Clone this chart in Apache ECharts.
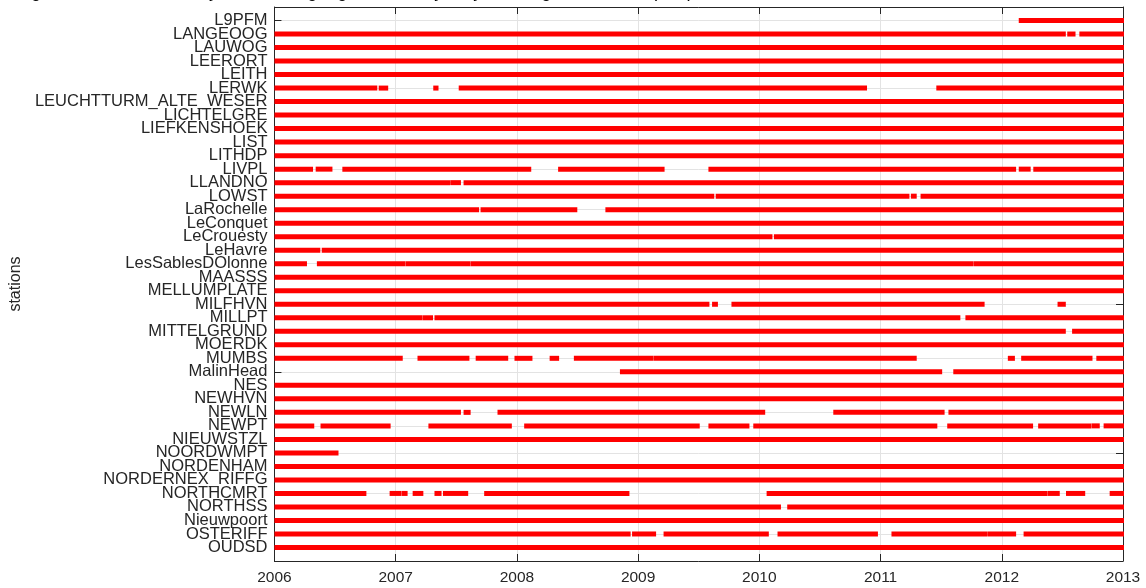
<!DOCTYPE html>
<html>
<head>
<meta charset="utf-8">
<title>Station data availability</title>
<script src="https://cdn.jsdelivr.net/npm/echarts@6/dist/echarts.min.js"></script>
<style>
  html, body { margin: 0; padding: 0; background: #fff; }
  #chart { width: 1146px; height: 588px; }
</style>
</head>
<body>
<div id="chart"></div>
<script>
// Station names, top to bottom
const stations = [
  'L9PFM', 'LANGEOOG', 'LAUWOG', 'LEERORT', 'LEITH', 'LERWK',
  'LEUCHTTURM_ALTE_WESER', 'LICHTELGRE', 'LIEFKENSHOEK', 'LIST', 'LITHDP',
  'LIVPL', 'LLANDNO', 'LOWST', 'LaRochelle', 'LeConquet', 'LeCrouesty',
  'LeHavre', 'LesSablesDOlonne', 'MAASSS', 'MELLUMPLATE', 'MILFHVN', 'MILLPT',
  'MITTELGRUND', 'MOERDK', 'MUMBS', 'MalinHead', 'NES', 'NEWHVN', 'NEWLN',
  'NEWPT', 'NIEUWSTZL', 'NOORDWMPT', 'NORDENHAM', 'NORDERNEX_RIFFG',
  'NORTHCMRT', 'NORTHSS', 'Nieuwpoort', 'OSTERIFF', 'OUDSD'
];

// Year ticks on the time axis
const yearTicks = [2006, 2007, 2008, 2009, 2010, 2011, 2012, 2013];

// Periods with data for each station, [start, end] in decimal years
const FULL = [[2006, 2013]];
const coverage = [
  [[2012.14, 2013]],                                                     // L9PFM
  [[2006, 2012.52], [2012.54, 2012.60], [2012.64, 2013]],                // LANGEOOG
  FULL,                                                                  // LAUWOG
  FULL,                                                                  // LEERORT
  FULL,                                                                  // LEITH
  [[2006, 2006.84], [2006.86, 2006.93], [2007.31, 2007.345],
   [2007.52, 2010.88], [2011.46, 2013]],                                 // LERWK
  FULL,                                                                  // LEUCHTTURM_ALTE_WESER
  FULL,                                                                  // LICHTELGRE
  FULL,                                                                  // LIEFKENSHOEK
  FULL,                                                                  // LIST
  FULL,                                                                  // LITHDP
  [[2006, 2006.31], [2006.34, 2006.47], [2006.56, 2008.11],
   [2008.34, 2009.21], [2009.58, 2012.11], [2012.14, 2012.23],
   [2012.26, 2013]],                                                     // LIVPL
  [[2006, 2007.44], [2007.45, 2007.53], [2007.56, 2013]],                // LLANDNO
  [[2006, 2009.62], [2009.64, 2011.23], [2011.25, 2011.29],
   [2011.33, 2013]],                                                     // LOWST
  [[2006, 2007.68], [2007.70, 2008.49], [2008.73, 2013]],                // LaRochelle
  FULL,                                                                  // LeConquet
  [[2006, 2010.10], [2010.12, 2013]],                                    // LeCrouesty
  [[2006, 2006.37], [2006.39, 2013]],                                    // LeHavre
  [[2006, 2006.26], [2006.35, 2007.07], [2007.08, 2007.61],
   [2007.62, 2011.76], [2011.77, 2013]],                                 // LesSablesDOlonne
  FULL,                                                                  // MAASSS
  FULL,                                                                  // MELLUMPLATE
  [[2006, 2009.58], [2009.61, 2009.65], [2009.77, 2011.85],
   [2012.46, 2012.52]],                                                  // MILFHVN
  [[2006, 2007.21], [2007.22, 2007.30], [2007.32, 2011.65],
   [2011.70, 2013]],                                                     // MILLPT
  [[2006, 2012.52], [2012.58, 2013]],                                    // MITTELGRUND
  FULL,                                                                  // MOERDK
  [[2006, 2007.05], [2007.18, 2007.60], [2007.66, 2007.92],
   [2007.98, 2008.12], [2008.27, 2008.34], [2008.47, 2009.12],
   [2009.13, 2011.29], [2012.05, 2012.10], [2012.16, 2012.74],
   [2012.78, 2013]],                                                     // MUMBS
  [[2008.85, 2011.50], [2011.60, 2013]],                                 // MalinHead
  FULL,                                                                  // NES
  FULL,                                                                  // NEWHVN
  [[2006, 2007.53], [2007.56, 2007.61], [2007.84, 2010.04],
   [2010.61, 2011.52], [2011.56, 2013]],                                 // NEWLN
  [[2006, 2006.32], [2006.38, 2006.95], [2007.27, 2007.95],
   [2008.06, 2009.50], [2009.58, 2009.91], [2009.95, 2011.46],
   [2011.55, 2012.25], [2012.30, 2012.73], [2012.74, 2012.80],
   [2012.84, 2013]],                                                     // NEWPT
  FULL,                                                                  // NIEUWSTZL
  [[2006, 2006.52]],                                                     // NOORDWMPT
  FULL,                                                                  // NORDENHAM
  FULL,                                                                  // NORDERNEX_RIFFG
  [[2006, 2006.75], [2006.95, 2007.04], [2007.05, 2007.09],
   [2007.14, 2007.22], [2007.32, 2007.37], [2007.39, 2007.59],
   [2007.73, 2008.92], [2010.06, 2012.37], [2012.38, 2012.47],
   [2012.53, 2012.68], [2012.89, 2013]],                                 // NORTHCMRT
  [[2006, 2010.17], [2010.23, 2013]],                                    // NORTHSS
  FULL,                                                                  // Nieuwpoort
  [[2006, 2008.93], [2008.95, 2009.14], [2009.21, 2010.07],
   [2010.15, 2010.97], [2011.09, 2011.87], [2011.88, 2012.11],
   [2012.18, 2013]],                                                     // OSTERIFF
  FULL                                                                   // OUDSD
];

// Flatten into [start, end, row] records; row 1 is the top station
const segments = [];
coverage.forEach((list, i) => {
  list.forEach(([s, e]) => segments.push([s, e, i + 1]));
});

const TEXT = '#262626';
const AXIS = '#262626';
const GRID = '#e3e3e3';
const FONT = 'Liberation Sans, Arial, Helvetica, sans-serif';

const chart = echarts.init(document.getElementById('chart'), null, { renderer: 'canvas' });

const yBase = {
  type: 'value',
  min: 0,
  max: stations.length + 1,
  interval: 1,
  inverse: true,
  axisLine: { show: true, lineStyle: { color: AXIS, width: 1 } },
  axisTick: { show: true, inside: true, length: 7, lineStyle: { color: AXIS } }
};

chart.setOption({
  animation: false,
  backgroundColor: '#ffffff',
  textStyle: { fontFamily: FONT },
  graphic: [{
    type: 'text',
    left: 16,
    top: -17,
    silent: true,
    style: {
      text: 'Figure 1: Data availability of the tide gauge stations, yearly coverage of records (a.u.)',
      fontSize: 18,
      fontFamily: FONT,
      fill: '#000000'
    }
  }],
  grid: { left: 273, right: 23, top: 7, bottom: 27, containLabel: false },
  xAxis: [
    {
      type: 'value',
      position: 'bottom',
      min: yearTicks[0],
      max: yearTicks[yearTicks.length - 1],
      interval: 1,
      axisLine: { show: true, onZero: false, lineStyle: { color: AXIS, width: 1 } },
      axisTick: { show: true, inside: true, length: 7, lineStyle: { color: AXIS } },
      axisLabel: {
        color: TEXT, fontSize: 15.5, margin: 9, fontFamily: FONT,
        formatter: v => String(v)
      },
      splitLine: { show: true, lineStyle: { color: GRID, width: 1 } }
    },
    {
      type: 'value',
      position: 'top',
      min: yearTicks[0],
      max: yearTicks[yearTicks.length - 1],
      interval: 1,
      axisLine: { show: true, onZero: false, lineStyle: { color: AXIS, width: 1 } },
      axisTick: { show: true, inside: true, length: 7, lineStyle: { color: AXIS } },
      axisLabel: { show: false },
      splitLine: { show: false }
    }
  ],
  yAxis: [
    Object.assign({}, yBase, {
      position: 'left',
      name: 'stations',
      nameLocation: 'middle',
      nameRotate: 90,
      nameGap: 246,
      nameTextStyle: { color: TEXT, fontSize: 16, fontFamily: FONT },
      axisLabel: {
        color: TEXT, fontSize: 16.5, margin: 7, fontFamily: FONT,
        formatter: v => stations[v - 1] || ''
      },
      splitLine: { show: true, lineStyle: { color: GRID, width: 1 } }
    }),
    Object.assign({}, yBase, {
      position: 'right',
      axisLabel: { show: false },
      splitLine: { show: false }
    })
  ],
  series: [{
    type: 'custom',
    xAxisIndex: 0,
    yAxisIndex: 0,
    encode: { x: [0, 1], y: 2 },
    data: segments,
    z: 5,
    renderItem: (params, api) => {
      const p0 = api.coord([api.value(0), api.value(2)]);
      const p1 = api.coord([api.value(1), api.value(2)]);
      const h = 5;
      return {
        type: 'rect',
        shape: { x: p0[0], y: p0[1] - h / 2, width: Math.max(p1[0] - p0[0], 3) + 1, height: h },
        style: { fill: '#ff0000' }
      };
    }
  }]
});
</script>
</body>
</html>
